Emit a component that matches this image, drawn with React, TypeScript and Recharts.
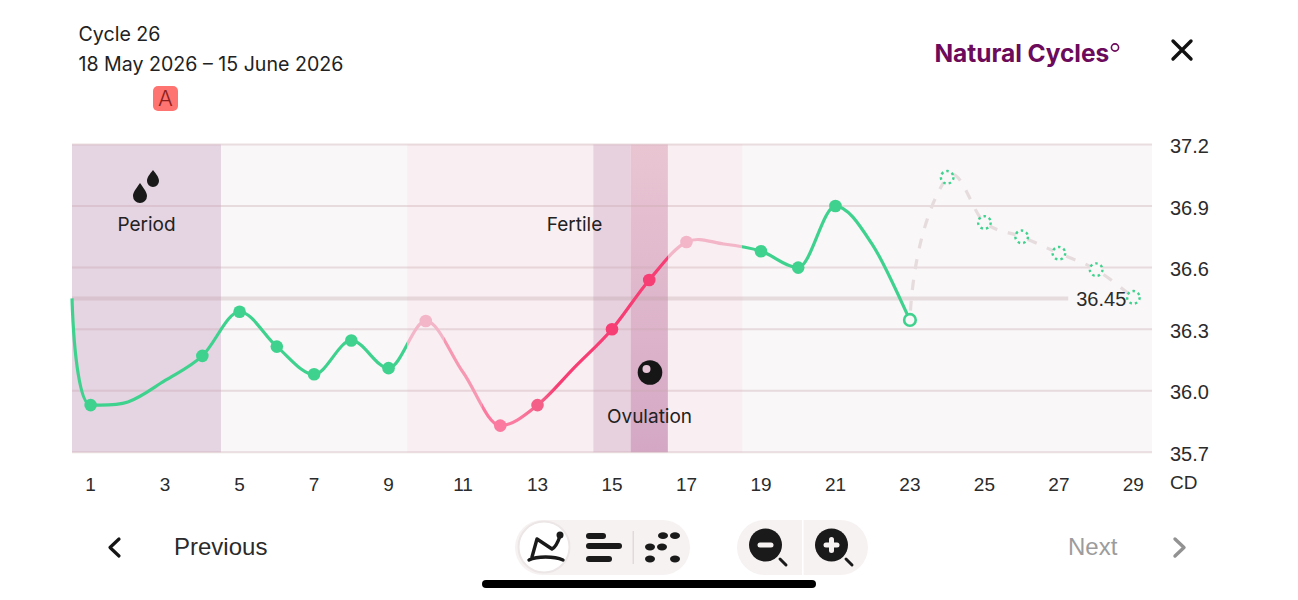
import React from 'react';
import { ComposedChart, Line, XAxis, YAxis, ReferenceArea, ReferenceLine } from 'recharts';

const days = [0.5, 1, 2, 3, 4, 5, 6, 7, 8, 9, 10, 11, 12, 13, 14, 15, 16, 17, 18, 19, 20, 21, 22, 23];
const temps = [36.45, 35.93, 35.945, 36.05, 36.17, 36.385, 36.215, 36.08, 36.245, 36.11, 36.34, 36.09, 35.83, 35.93, 36.115, 36.3, 36.54, 36.725, 36.715, 36.68, 36.6, 36.9, 36.71, 36.345];
const noDotDays = [0.5, 2, 3, 11, 14, 18, 22];
const predictedDays = [23, 24, 25, 26, 27, 28, 29];
const predictedTemps = [36.345, 37.04, 36.82, 36.75, 36.67, 36.59, 36.455];
const yTicks = [35.7, 36.0, 36.3, 36.6, 36.9, 37.2];
const xTicks = [1, 3, 5, 7, 9, 11, 13, 15, 17, 19, 21, 23, 25, 27, 29];
const coverLine = 36.45;
const lightPinkDays = [10, 17];
const midPinkDays = [12];
const deepPinkDays = [13];
const hotPinkDays = [15, 16];

const GREEN = '#3fd28e';
const LIGHT = '#f3b5c8';
const SOFT = '#f798b2';
const MID = '#fb7a9f';
const DEEP = '#f45f88';
const HOT = '#f73e74';

const allDays = [...days, ...predictedDays.slice(1)];
const data = allDays.map((d) => {
  const ti = days.indexOf(d);
  const pi = predictedDays.indexOf(d);
  return { d, t: ti >= 0 ? temps[ti] : undefined, p: pi >= 0 ? predictedTemps[pi] : undefined };
});

// Catmull-Rom curve factory: sharp turns at clear local extremes, steep leading segment
function catmull(context: any) {
  let pts: [number, number][] = [];
  return {
    areaStart() {},
    areaEnd() {},
    lineStart() { pts = []; },
    point(x: number, y: number) { pts.push([+x, +y]); },
    lineEnd() {
      const k = 1 / 6;
      const tan = pts.map((p, i) => {
        const a = pts[i - 1] || p;
        const b = pts[i + 1] || p;
        const dy1 = p[1] - a[1];
        const dy2 = b[1] - p[1];
        const t: [number, number] = [(b[0] - a[0]) * k, (b[1] - a[1]) * k];
        if (i > 1 && dy1 * dy2 < 0 && Math.abs(dy1) > 4 && Math.abs(dy2) > 4) t[1] = 0;
        if (i === 1 && p[0] - a[0] < 25) {
          // the short opening segment drops and levels off along the next segment
          t[0] = (b[0] - p[0]) * 0.35;
          t[1] = (b[1] - p[1]) * 0.35 + 1;
        }
        return t;
      });
      pts.forEach((p, i) => {
        if (i === 0) { context.moveTo(p[0], p[1]); return; }
        const p1 = pts[i - 1];
        const lead = i === 1;
        const c1x = lead ? p1[0] + (p[0] - p1[0]) * 0.1 : p1[0] + tan[i - 1][0];
        const c1y = lead ? p1[1] + (p[1] - p1[1]) * 0.55 : p1[1] + tan[i - 1][1];
        const end = lead ? [Math.min(tan[i][0], (p[0] - p1[0]) * 0.55), tan[i][1]] : tan[i];
        context.bezierCurveTo(c1x, c1y, p[0] - end[0], p[1] - end[1], p[0], p[1]);
      });
    },
  };
}

const TempDot = (props: any) => {
  const { cx, cy, payload } = props;
  if (cx == null || cy == null || payload.t == null || noDotDays.includes(payload.d)) return <g key={payload.d} />;
  if (payload.d === 23) return <circle key={payload.d} cx={cx} cy={cy} r={5.8} fill="#faf7f8" stroke={GREEN} strokeWidth={2.6} />;
  const c = lightPinkDays.includes(payload.d) ? LIGHT : midPinkDays.includes(payload.d) ? MID : deepPinkDays.includes(payload.d) ? DEEP : hotPinkDays.includes(payload.d) ? HOT : GREEN;
  return <circle key={payload.d} cx={cx} cy={cy} r={6.3} fill={c} />;
};

const PredDot = (props: any) => {
  const { cx, cy, payload } = props;
  if (cx == null || cy == null || payload.p == null || payload.d === 23) return <g key={payload.d} />;
  return <circle key={payload.d} cx={cx} cy={cy} r={6.3} fill="#faf7f8" stroke={GREEN} strokeWidth={2.4} strokeDasharray="2.5 3.1" />;
};

const YTick = (props: any) => (
  <text x={props.x} y={props.y + 8.5} fontFamily="Liberation Sans" fontSize={20} fill="#2b2b2b">{props.payload.value.toFixed(1)}</text>
);

const sans = 'Inter';
const helv = 'Liberation Sans';

export default function App() {
  return (
    <div style={{ position: 'absolute', left: 0, top: 0, width: 1298, height: 600, background: '#fff', overflow: 'hidden' }}>
      <div style={{ position: 'absolute', left: 78.5, top: 22, fontFamily: sans, fontSize: 19.6, color: '#222', lineHeight: '25px' }}>Cycle 26</div>
      <div style={{ position: 'absolute', left: 78.5, top: 52, fontFamily: sans, fontSize: 19.6, color: '#222', lineHeight: '25px', whiteSpace: 'nowrap' }}>18 May 2026 – 15 June 2026</div>
      <div style={{ position: 'absolute', left: 153, top: 86, width: 25, height: 25, borderRadius: 5, background: '#fe7470', color: '#8c1f20', fontFamily: sans, fontSize: 22, fontWeight: 300, lineHeight: '25px', textAlign: 'center' }}>A</div>
      <div style={{ position: 'absolute', left: 934.5, top: 37, fontFamily: sans, fontWeight: 700, fontSize: 24.5, letterSpacing: -0.05, color: '#6c0a5b', lineHeight: '32px', whiteSpace: 'nowrap' }}>Natural Cycles</div>

      <ComposedChart width={1298} height={600} data={data} margin={{ top: 144.5, right: 0, bottom: 0, left: 72 }} style={{ position: 'absolute', left: 0, top: 0 }}>
        <defs>
          <linearGradient id="ovu" x1="0" y1="0" x2="0" y2="1">
            <stop offset="0" stopColor="#e9c5d2" />
            <stop offset="1" stopColor="#d4a8c5" />
          </linearGradient>
          <linearGradient id="tempLine" gradientUnits="userSpaceOnUse" x1="72" y1="0" x2="1152" y2="0">
            <stop offset={9 / 29} stopColor={GREEN} />
            <stop offset={9 / 29} stopColor={LIGHT} />
            <stop offset={10 / 29} stopColor={LIGHT} />
            <stop offset={10 / 29} stopColor={SOFT} />
            <stop offset={11 / 29} stopColor={SOFT} />
            <stop offset={11 / 29} stopColor={MID} />
            <stop offset={12 / 29} stopColor={MID} />
            <stop offset={12.6 / 29} stopColor={DEEP} />
            <stop offset={13 / 29} stopColor={HOT} />
            <stop offset={16 / 29} stopColor={HOT} />
            <stop offset={16 / 29} stopColor={LIGHT} />
            <stop offset={18 / 29} stopColor={LIGHT} />
            <stop offset={18 / 29} stopColor={GREEN} />
          </linearGradient>
        </defs>
        <XAxis dataKey="d" type="number" domain={[0.5, 29.5]} ticks={xTicks} interval={0} height={147.7} axisLine={false} tickLine={false} tickMargin={19}
          tick={{ fontFamily: helv, fontSize: 19, fill: '#2b2b2b' }} />
        <YAxis orientation="right" type="number" domain={[35.7, 37.2]} ticks={yTicks} width={146} axisLine={false} tickLine={false} tickMargin={12} tick={<YTick />} />
        <ReferenceArea x1={0.5} x2={29.5} y1={35.7} y2={37.2} fill="#f9f7f8" fillOpacity={1} stroke="none" />
        <ReferenceArea x1={0.5} x2={4.5} y1={35.7} y2={37.2} fill="#e5d4e2" fillOpacity={1} stroke="none" />
        <ReferenceArea x1={9.5} x2={18.5} y1={35.7} y2={37.2} fill="#f9eef2" fillOpacity={1} stroke="none" />
        <ReferenceArea x1={14.5} x2={15.5} y1={35.7} y2={37.2} fill="#e7d1df" fillOpacity={1} stroke="none" />
        <ReferenceArea x1={15.5} x2={16.5} y1={35.7} y2={37.2} fill="url(#ovu)" fillOpacity={1} stroke="none" />
        {yTicks.map((t) => (
          <ReferenceLine key={t} y={t} stroke="#c9a9ae" strokeOpacity={0.36} strokeWidth={2} />
        ))}
        <ReferenceLine segment={[{ x: 0.5, y: coverLine }, { x: 27.25, y: coverLine }]} stroke="#b99aa0" strokeOpacity={0.3} strokeWidth={4}
          label={{ value: '36.45', position: 'right', offset: 8, fontFamily: helv, fontSize: 20, fill: '#2b2b2b' }} />
        <Line dataKey="p" connectNulls type={catmull as any} stroke="#e6dcdd" strokeWidth={3.2} strokeDasharray="10 11" strokeDashoffset={12} dot={<PredDot />} isAnimationActive={false} />
        <Line dataKey="t" connectNulls type={catmull as any} stroke="url(#tempLine)" strokeWidth={3.2} dot={<TempDot />} isAnimationActive={false} />
      </ComposedChart>

      <svg width={1298} height={600} style={{ position: 'absolute', left: 0, top: 0, pointerEvents: 'none' }}>
        <circle cx={1115} cy={47.5} r={3.6} fill="none" stroke="#6c0a5b" strokeWidth={1.6} />
        <path d="M1173 41 L1191 59 M1191 41 L1173 59" stroke="#111" strokeWidth={3.4} strokeLinecap="round" />
        <path d="M140 183 C144 189 147 192 147 196 A7 7 0 0 1 133 196 C133 192 136 189 140 183 Z" fill="#1a1a1a" />
        <path d="M153 170 C156 174 159 177 159 181 A6 6 0 0 1 147 181 C147 177 150 174 153 170 Z" fill="#1a1a1a" />
        <text x={146.5} y={230.5} textAnchor="middle" fontFamily={sans} fontSize={19} fill="#222">Period</text>
        <text x={574.5} y={230.5} textAnchor="middle" fontFamily={sans} fontSize={19} fill="#222">Fertile</text>
        <text x={649.5} y={423} textAnchor="middle" fontFamily={sans} fontSize={19} fill="#222">Ovulation</text>
        <circle cx={650} cy={372.5} r={12.3} fill="#161616" />
        <circle cx={646.5} cy={369} r={4} fill="#e6c6d6" />
        <text x={1170} y={489} fontFamily={helv} fontSize={19} fill="#2b2b2b">CD</text>
        <path d="M119 539 L110 547.5 L119 556" fill="none" stroke="#151515" strokeWidth={3.2} strokeLinecap="round" strokeLinejoin="round" />
        <text x={174} y={555} fontFamily={helv} fontSize={24} fill="#2b2b2b">Previous</text>
        <text x={1068} y={555} fontFamily={helv} fontSize={24} fill="#9c9c9c">Next</text>
        <path d="M1175 539 L1184 547.5 L1175 556" fill="none" stroke="#929292" strokeWidth={3.4} strokeLinecap="round" strokeLinejoin="round" />
        <rect x={515} y={520} width={175} height={55} rx={27.5} fill="#f7f2f2" />
        <circle cx={544} cy={547} r={25.5} fill="#fff" stroke="#ece6e6" strokeWidth={2} />
        <path d="M529 560 C 537 556, 554 556, 563 560" fill="none" stroke="#1a1a1a" strokeWidth={3.4} strokeLinecap="round" />
        <path d="M532 557 L537 539 L552 549 C 556 547, 558 542, 560 536" fill="none" stroke="#1a1a1a" strokeWidth={3.4} strokeLinecap="round" strokeLinejoin="round" />
        <circle cx={560} cy={535} r={3.5} fill="#1a1a1a" />
        <rect x={586} y={533} width={20} height={6} rx={3} fill="#1a1a1a" />
        <rect x={586} y={543} width={36} height={6} rx={3} fill="#1a1a1a" />
        <rect x={586} y={556} width={26} height={6} rx={3} fill="#1a1a1a" />
        <rect x={632.5} y={531} width={1.5} height={33} fill="#e2dada" />
        {[[663, 535.7], [675, 535.7], [650, 547], [662, 547], [650, 559], [675, 559]].map(([x, y], i) => (
          <ellipse key={i} cx={x} cy={y} rx={5} ry={3.4} fill="#1a1a1a" />
        ))}
        <rect x={737} y={520} width={131} height={55} rx={27.5} fill="#f7f2f2" />
        <rect x={802} y={520} width={1.5} height={55} fill="#fff" />
        <circle cx={765.5} cy={545} r={16.5} fill="#1a1a1a" />
        <rect x={757.5} y={542.5} width={16} height={5} rx={2.5} fill="#f7f2f2" />
        <path d="M780 559 L786 565" stroke="#1a1a1a" strokeWidth={3} strokeLinecap="round" />
        <circle cx={831.5} cy={545} r={16.5} fill="#1a1a1a" />
        <rect x={823.5} y={542.5} width={16} height={5} rx={2.5} fill="#f7f2f2" />
        <rect x={829} y={537} width={5} height={16} rx={2.5} fill="#f7f2f2" />
        <path d="M846 559 L852 565" stroke="#1a1a1a" strokeWidth={3} strokeLinecap="round" />
        <rect x={482} y={580} width={334} height={8} rx={4} fill="#000" />
      </svg>
    </div>
  );
}
